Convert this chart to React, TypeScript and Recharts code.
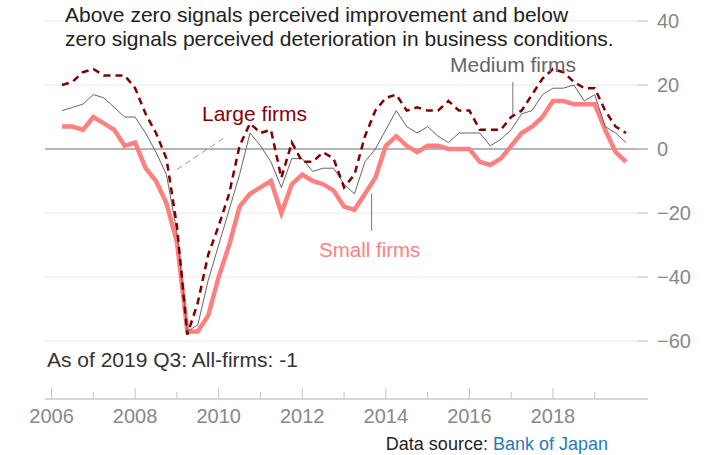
import { LineChart, Line, XAxis, YAxis, CartesianGrid, ReferenceLine } from 'recharts';

// Tankan business conditions DI, quarterly, 2006 Q1 - 2019 Q3
const quarters = [
  '2006 Q1', '2006 Q2', '2006 Q3', '2006 Q4',
  '2007 Q1', '2007 Q2', '2007 Q3', '2007 Q4',
  '2008 Q1', '2008 Q2', '2008 Q3', '2008 Q4',
  '2009 Q1', '2009 Q2', '2009 Q3', '2009 Q4',
  '2010 Q1', '2010 Q2', '2010 Q3', '2010 Q4',
  '2011 Q1', '2011 Q2', '2011 Q3', '2011 Q4',
  '2012 Q1', '2012 Q2', '2012 Q3', '2012 Q4',
  '2013 Q1', '2013 Q2', '2013 Q3', '2013 Q4',
  '2014 Q1', '2014 Q2', '2014 Q3', '2014 Q4',
  '2015 Q1', '2015 Q2', '2015 Q3', '2015 Q4',
  '2016 Q1', '2016 Q2', '2016 Q3', '2016 Q4',
  '2017 Q1', '2017 Q2', '2017 Q3', '2017 Q4',
  '2018 Q1', '2018 Q2', '2018 Q3', '2018 Q4',
  '2019 Q1', '2019 Q2', '2019 Q3',
];

const largeFirms = [
  20, 21, 24, 25, 23, 23, 23, 19, 11, 5, -3, -24,
  -58, -48, -33, -24, -14, 1, 8, 5, 6, -9, 2, -4,
  -4, -1, -3, -12, -8, 4, 12, 16, 17, 12, 13, 12,
  12, 15, 12, 12, 6, 6, 6, 10, 12, 17, 22, 25,
  24, 21, 19, 19, 12, 7, 5,
];

const mediumFirms = [
  12, 13, 14, 17, 16, 13, 10, 10, 5, -1, -8, -26,
  -57, -55, -41, -30, -19, -8, 5, 1, -4, -12, -3, -3,
  -7, -6, -6, -11, -14, -4, 0, 6, 12, 7, 5, 7,
  4, 2, 5, 5, 5, 1, 3, 6, 11, 12, 17, 19,
  19, 20, 15, 17, 7, 5, 2,
];

const smallFirms = [
  7, 7, 6, 10, 8, 6, 1, 2, -6, -10, -17, -29,
  -57, -57, -52, -40, -30, -18, -14, -12, -10, -20, -11, -8,
  -10, -11, -13, -18, -19, -14, -9, 1, 4, 1, -1, 1,
  1, 0, 0, 0, -4, -5, -3, 1, 5, 7, 10, 15,
  15, 14, 14, 14, 6, -1, -4,
];

const yearTicks = [2006, 2007, 2008, 2009, 2010, 2011, 2012, 2013, 2014, 2015, 2016, 2017, 2018, 2019];
const yearLabels = [2006, 2008, 2010, 2012, 2014, 2016, 2018];
const valueTicks = [-60, -40, -20, 0, 20, 40];

const data = quarters.map((q, i) => {
  const [yr, qq] = q.split(' Q');
  return {
    t: Number(yr) + Number(qq) * 0.25,
    large: largeFirms[i],
    medium: mediumFirms[i],
    small: smallFirms[i],
  };
});

const FONT = '"Liberation Sans", Arial, Helvetica, sans-serif';

const YearTick = (props: any) => {
  const { x, y, payload } = props;
  const v = payload.value;
  const labelled = yearLabels.includes(v);
  return (
    <g>
      <line x1={x} x2={x} y1={y - (labelled ? 11 : 7)} y2={y} stroke="#c4c4c4" />
      {labelled && (
        <text x={x} y={y + 23.5} textAnchor="middle" fill="#888" fontSize={20} fontFamily={FONT}>
          {v}
        </text>
      )}
    </g>
  );
};

const ValueTick = (props: any) => {
  const { x, y, payload } = props;
  const v = payload.value;
  const label = v < 0 ? '\u2212' + Math.abs(v) : String(v);
  return (
    <g>
      <line x1={x - 11} x2={x} y1={y} y2={y} stroke="#cccccc" />
      <text x={x + 9} y={y + 7} fill="#888" fontSize={20} fontFamily={FONT}>
        {label}
      </text>
    </g>
  );
};

export default function App() {
  return (
    <div style={{ position: 'absolute', left: 0, top: 0, width: 712, height: 455, background: '#fff' }}>
      <LineChart width={712} height={455} data={data} margin={{ top: 21, right: 0, bottom: 0, left: 45 }}>
        <CartesianGrid horizontal vertical={false} stroke="#e8e8e8" />
        <XAxis
          dataKey="t"
          type="number"
          domain={[2005.843, 2020.275]}
          ticks={yearTicks}
          allowDataOverflow
          height={56}
          tickSize={0}
          tickMargin={0}
          tickLine={false}
          axisLine={{ stroke: '#bbbbbb' }}
          tick={<YearTick />}
          interval={0}
        />
        <YAxis
          orientation="right"
          type="number"
          domain={[-78.125, 40]}
          ticks={valueTicks}
          allowDataOverflow
          width={64}
          tickSize={0}
          tickMargin={0}
          tickLine={false}
          axisLine={false}
          tick={<ValueTick />}
          interval={0}
        />
        <ReferenceLine y={0} stroke="#b5b5b5" strokeWidth={2} />
        <ReferenceLine
          segment={[{ x: 2009.0, y: -6.4 }, { x: 2010.11, y: 3.3 }]}
          stroke="#999"
          strokeDasharray="6 4"
          strokeWidth={1}
        />
        <ReferenceLine
          segment={[{ x: 2017.04, y: 20.9 }, { x: 2017.04, y: 10.5 }]}
          stroke="#777"
          strokeWidth={1}
        />
        <ReferenceLine
          segment={[{ x: 2013.66, y: -13.9 }, { x: 2013.66, y: -25.6 }]}
          stroke="#777"
          strokeWidth={1}
        />
        <Line
          type="linear"
          dataKey="small"
          stroke="#ff8080"
          strokeWidth={4.5}
          dot={false}
          isAnimationActive={false}
        />
        <Line
          type="linear"
          dataKey="medium"
          stroke="#666"
          strokeWidth={1}
          dot={false}
          isAnimationActive={false}
        />
        <Line
          type="linear"
          dataKey="large"
          stroke="#800000"
          strokeWidth={2.5}
          strokeDasharray="7 5"
          dot={false}
          isAnimationActive={false}
        />
      </LineChart>
      <svg
        width={712}
        height={455}
        style={{ position: 'absolute', left: 0, top: 0, pointerEvents: 'none' }}
        fontFamily={FONT}
      >
        <text x={65} y={22} fontSize={21} fill="#222">
          Above zero signals perceived improvement and below
        </text>
        <text x={65} y={45.5} fontSize={21} fill="#222">
          zero signals perceived deterioration in business conditions.
        </text>
        <text x={202} y={120.5} fontSize={21} fill="#8b0000">
          Large firms
        </text>
        <text x={450} y={72} fontSize={21} fill="#666">
          Medium firms
        </text>
        <text x={319} y={256.5} fontSize={20.5} fill="#ff8080">
          Small firms
        </text>
        <text x={47} y={367} fontSize={21} fill="#333">
          As of 2019 Q3: All-firms: -1
        </text>
        <text x={608} y={450} fontSize={18} textAnchor="end" fill="#222">
          Data source: <tspan fill="#2a7ab9">Bank of Japan</tspan>
        </text>
      </svg>
    </div>
  );
}
